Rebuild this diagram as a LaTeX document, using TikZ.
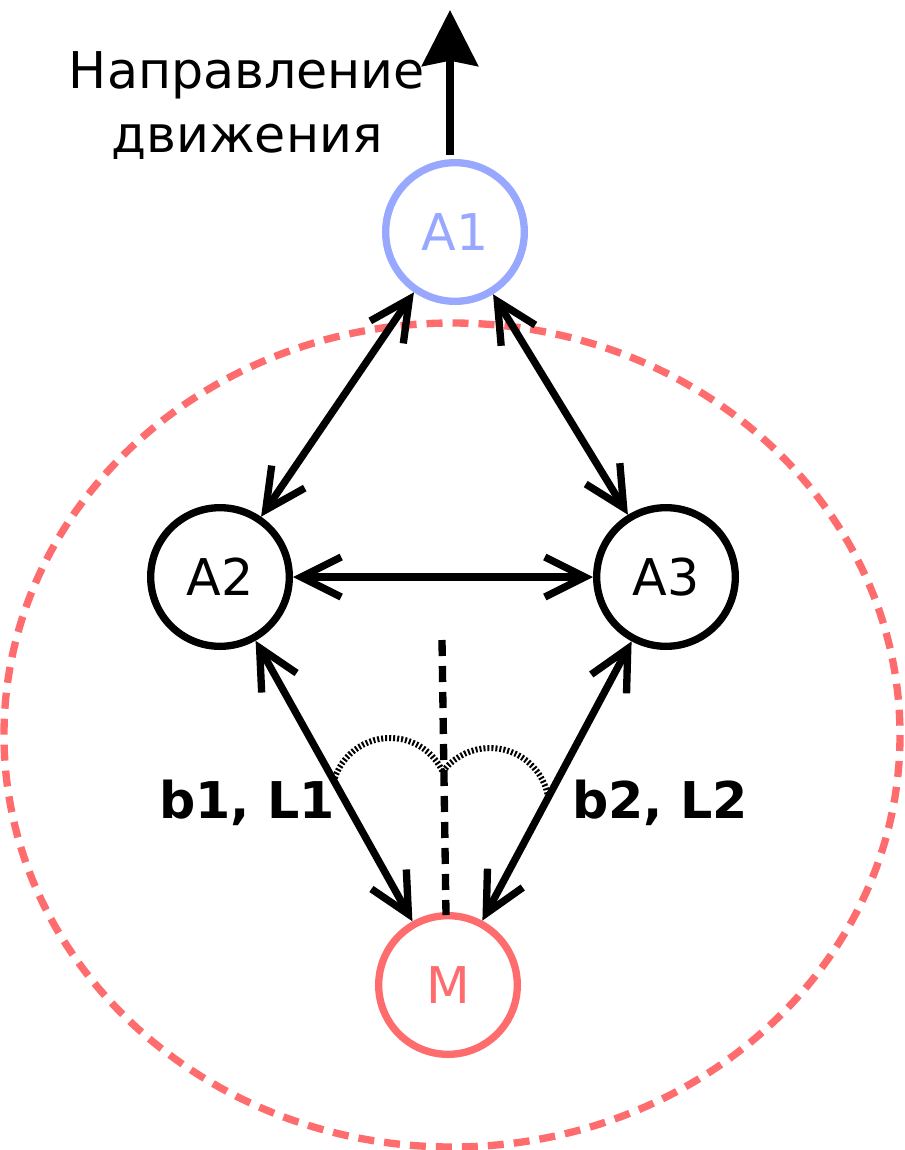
\documentclass[tikz,border=0pt]{standalone}
\usepackage{fontspec}
\setmainfont{DejaVu Sans}
\usetikzlibrary{arrows.meta}
\definecolor{agentblue}{RGB}{153,168,255}
\definecolor{zonered}{RGB}{255,108,110}

\begin{document}
\begin{tikzpicture}[x=0.75pt,y=-0.75pt,
  agent/.style={draw,circle,line width=5.5pt,minimum size=104pt,inner sep=0pt,font=\fontsize{38}{45}\selectfont},
  link/.style={line width=5.5pt,<->,>={Straight Barb[length=30pt,width=30pt]}},
  lbl/.style={font=\fontsize{38}{45}\selectfont\bfseries}]
\useasboundingbox (0,0) rectangle (904,1150);
% zone round the leader
\draw [zonered,line width=5.5pt,dash pattern=on 12pt off 7.5pt] (452,735) ellipse (448 and 412);
% agents
\node [agent,agentblue] (a1) at (455,232) {A1};
\node [agent] (a2) at (220,577) {A2};
\node [agent] (a3) at (666,577) {A3};
\node [agent,zonered] (m) at (448,985) {M};
% direction of motion
\coordinate (dirbase) at (450,155);
\coordinate (dirtip) at (450,10);
\draw [line width=5.5pt,-{Stealth[length=42pt,width=42pt,inset=4pt]}] (dirbase) -- (dirtip);
\node [align=center,font=\fontsize{38}{48}\selectfont] (dirtext) at (247,106) {Направление\\движения};
% links
\draw [link] (a1) -- (a2);
\draw [link] (a1) -- (a3);
\draw [link] (a2) -- (a3);
\draw [link] (a2) -- (m);
\draw [link] (a3) -- (m);
% axis and angles
\coordinate (axtop) at (442,640);
\coordinate (axbot) at (446,915);
\draw [line width=5.5pt,dash pattern=on 12pt off 7.5pt] (axtop) -- (axbot);
\draw [line width=4.5pt,dash pattern=on 1.5pt off 1.5pt] (390,796) ++(198:58) arc (198:336:58);
\draw [line width=4.5pt,dash pattern=on 1.5pt off 1.5pt] (490,807) ++(217:59) arc (217:348:59);
\node [lbl] (ang1) at (247,803) {b1, L1};
\node [lbl] (ang2) at (660,803) {b2, L2};
\end{tikzpicture}
\end{document}
